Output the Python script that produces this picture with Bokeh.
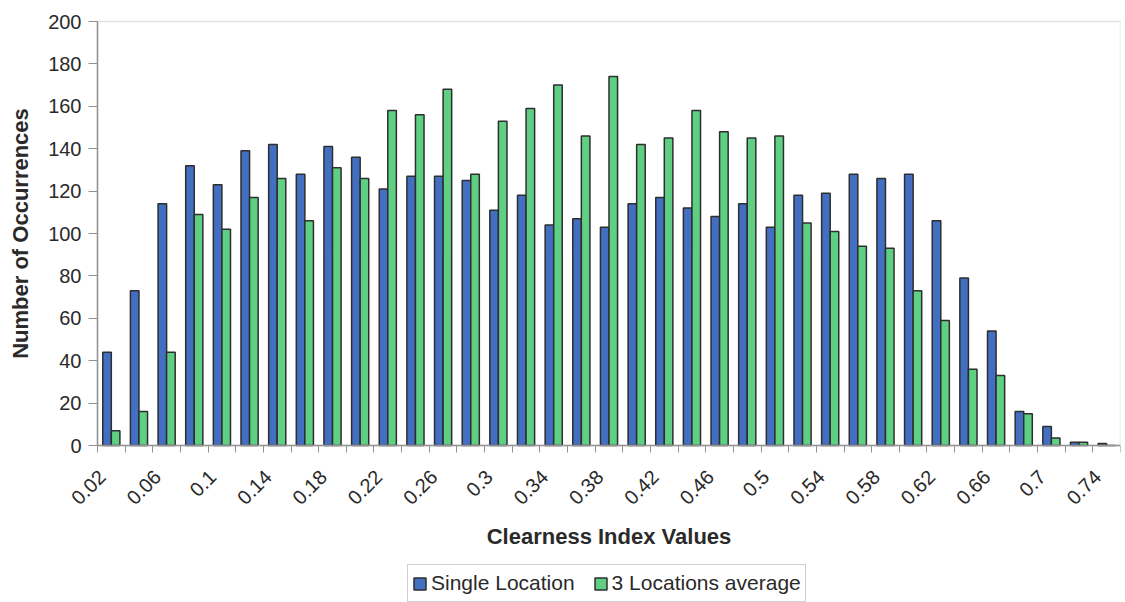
import math
from bokeh.plotting import figure
from bokeh.models import (ColumnDataSource, FixedTicker, Legend, LegendItem, Range1d,
                          BoxAnnotation, Label)
from bokeh.transform import dodge
from bokeh.embed import file_html
from bokeh.resources import INLINE

categories = ["0.02", "0.04", "0.06", "0.08", "0.1", "0.12", "0.14", "0.16", "0.18", "0.2",
              "0.22", "0.24", "0.26", "0.28", "0.3", "0.32", "0.34", "0.36", "0.38", "0.4",
              "0.42", "0.44", "0.46", "0.48", "0.5", "0.52", "0.54", "0.56", "0.58", "0.6",
              "0.62", "0.64", "0.66", "0.68", "0.7", "0.72", "0.74"]
single_location = [44, 73, 114, 132, 123, 139, 142, 128, 141, 136,
                   121, 127, 127, 125, 111, 118, 104, 107, 103, 114,
                   117, 112, 108, 114, 103, 118, 119, 128, 126, 128,
                   106, 79, 54, 16, 9, 1.5, 1]
three_locations_average = [7, 16, 44, 109, 102, 117, 126, 106, 131, 126,
                           158, 156, 168, 128, 153, 159, 170, 146, 174, 142,
                           145, 158, 148, 145, 146, 105, 101, 94, 93, 73,
                           59, 36, 33, 15, 3.5, 1.5, 0]
y_ticks = [0, 20, 40, 60, 80, 100, 120, 140, 160, 180, 200]
labelled_every = 2
x_title = "Clearness Index Values"
y_title = "Number of Occurrences"

FONT = "Liberation Sans"
BLUE = "#436fc2"
GREEN = "#5fcf84"
EDGE = "#2e2e2e"
TEXT = "#2a2a2a"
AXIS = "#909090"

# layout (pixels): the frame covers the whole page; the plot area is
# PLOT_W x PLOT_H, with room on its left, above and below for axes,
# titles and legend (all drawn inside the frame)
PLOT_W, PLOT_H = 1023, 424
LEFT_W, ABOVE_H, BELOW_H = 97, 21, 157
n = len(categories)
y_min, y_max = y_ticks[0], y_ticks[-1]
y_low = y_min - (y_max - y_min) * BELOW_H / PLOT_H
y_high = y_max + (y_max - y_min) * ABOVE_H / PLOT_H
x_lo, x_hi = -0.5, n - 0.5
x_low = x_lo - (x_hi - x_lo) * LEFT_W / PLOT_W

src = ColumnDataSource(dict(idx=list(range(n)), single=single_location,
                            avg=three_locations_average))

p = figure(frame_width=PLOT_W + LEFT_W, frame_height=PLOT_H + ABOVE_H + BELOW_H,
           output_backend="svg", toolbar_location=None,
           x_range=Range1d(x_low, x_hi), y_range=Range1d(y_low, y_high),
           min_border_left=0, min_border_top=0, min_border_right=5,
           min_border_bottom=0)

r1 = p.vbar(x=dodge("idx", -0.155, range=p.x_range), top="single", width=0.31,
            source=src, fill_color=BLUE, line_color=EDGE, line_width=1.5)
r2 = p.vbar(x=dodge("idx", 0.155, range=p.x_range), top="avg", width=0.31,
            source=src, fill_color=GREEN, line_color=EDGE, line_width=1.5)

p.xgrid.visible = False
p.ygrid.visible = False
p.outline_line_color = None
p.background_fill_color = "white"
p.border_fill_color = "white"

# plot-area border
p.add_layout(BoxAnnotation(left=x_lo, right=x_hi, bottom=y_min, top=y_max,
                           fill_alpha=0, line_color="#a0a0a0", line_width=1.5))

# x axis pinned at y = 0: labels on every other category, ticks between categories
label_shift = 0.33
major = [i - label_shift for i in range(0, n, labelled_every)]
p.xaxis.fixed_location = y_min
p.xaxis.bounds = (x_lo, x_hi)
p.xaxis.ticker = FixedTicker(ticks=major, minor_ticks=[i - 0.5 for i in range(n + 1)])
p.xaxis.major_label_overrides = {t: categories[i] for t, i in zip(major, range(0, n, labelled_every))}
p.xaxis.major_label_orientation = math.pi / 4
p.xaxis.major_tick_out = 0
p.xaxis.major_tick_in = 0
p.xaxis.minor_tick_out = 7
p.xaxis.minor_tick_in = 0
p.xaxis.minor_tick_line_color = AXIS
p.xaxis.axis_line_color = AXIS
p.xaxis.axis_line_width = 1.5
p.xaxis.major_label_text_font = FONT
p.xaxis.major_label_text_font_size = "20px"
p.xaxis.major_label_text_color = TEXT
p.xaxis.major_label_standoff = 21

# y axis pinned at the left edge of the plot area
p.yaxis.fixed_location = x_lo
p.yaxis.bounds = (y_min, y_max)
p.yaxis.ticker = FixedTicker(ticks=y_ticks, minor_ticks=[])
p.yaxis.major_tick_out = 9
p.yaxis.major_tick_in = 0
p.yaxis.major_tick_line_color = AXIS
p.yaxis.axis_line_color = AXIS
p.yaxis.axis_line_width = 1.5
p.yaxis.major_label_text_font = FONT
p.yaxis.major_label_text_font_size = "20px"
p.yaxis.major_label_text_color = TEXT
p.yaxis.major_label_standoff = 7

# axis titles
p.add_layout(Label(x=(x_lo + x_hi) / 2, y=66, y_units="screen", text=x_title,
                   text_align="center", text_baseline="middle", text_font=FONT,
                   text_font_style="bold", text_font_size="22px", text_color=TEXT))
p.add_layout(Label(x=20, x_units="screen", y=(y_min + y_max) / 2, text=y_title,
                   angle=math.pi / 2, text_align="center", text_baseline="middle",
                   text_font=FONT, text_font_style="bold", text_font_size="22px",
                   text_color=TEXT))

legend = Legend(items=[LegendItem(label="Single Location", renderers=[r1]),
                       LegendItem(label="3 Locations average", renderers=[r2])],
                orientation="horizontal", location=(407, 0))
legend.border_line_color = "#a0a0a0"
legend.border_line_width = 1.5
legend.padding = 4
legend.spacing = 18
legend.margin = 0
legend.glyph_width = 15
legend.glyph_height = 15
legend.label_standoff = 4
legend.label_text_font = FONT
legend.label_text_font_size = "21px"
legend.label_text_color = TEXT
legend.label_height = 28
legend.background_fill_alpha = 1.0
p.add_layout(legend)

open("out.html", "w").write(file_html(p, INLINE))
